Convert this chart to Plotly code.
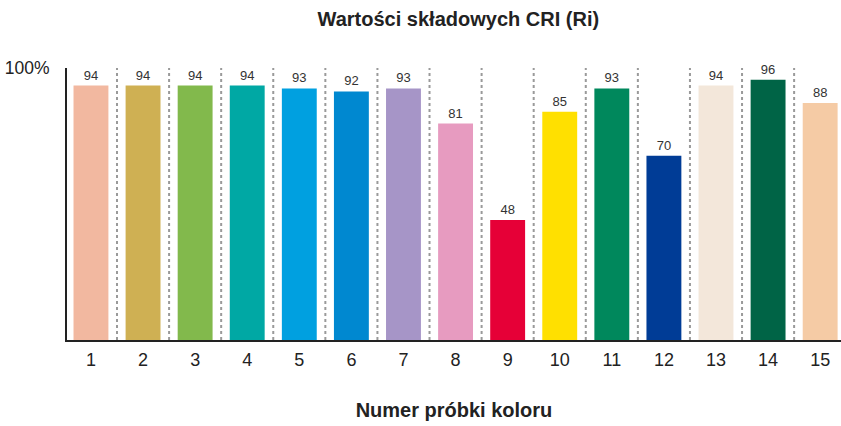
import plotly.graph_objects as go

samples = [str(i) for i in range(1, 16)]
sample_x = list(range(1, 16))
ri_values = [94, 94, 94, 94, 93, 92, 93, 81, 48, 85, 93, 70, 94, 96, 88]
bar_colors = ["#F2B8A0", "#CFB053", "#82B94C", "#00A8A4", "#00A0E0", "#0088D0",
              "#A695C7", "#E79BC0", "#E60037", "#FFE000", "#00885C", "#003C96",
              "#F3E7DA", "#006446", "#F5CBA5"]
y_tick_vals = [100]
y_tick_text = ["100%"]

FONT = "Liberation Sans, Arial, sans-serif"
W, H = 841, 426

fig = go.Figure()
fig.add_trace(go.Bar(
    x=sample_x, y=ri_values,
    marker=dict(color=bar_colors, line=dict(width=0)),
    width=0.67,
    text=[str(v) for v in ri_values],
    textposition="outside",
    textfont=dict(size=13, color="#333333", family=FONT),
    cliponaxis=False,
    hoverinfo="skip",
))

for i in range(len(sample_x) - 1):
    xm = (sample_x[i] + sample_x[i + 1]) / 2
    fig.add_shape(type="line", xref="x", yref="paper", x0=xm, x1=xm, y0=0, y1=1,
                  line=dict(color="#9a9a9a", width=2, dash="dot"), layer="below")

fig.update_layout(
    width=W, height=H,
    margin=dict(l=67, r=0, t=68, b=86),
    paper_bgcolor="white", plot_bgcolor="white",
    showlegend=False,
    font=dict(family=FONT, color="#222222"),
    title=dict(text="<b>Wartości składowych CRI (Ri)</b>", x=0.545, xanchor="center",
               y=1 - 19 / H, yanchor="middle", font=dict(size=20, color="#222222")),
)
fig.update_xaxes(
    range=[0.54, 15.4], tickmode="array", tickvals=sample_x, ticktext=samples,
    showgrid=False, zeroline=False, showline=True, linecolor="#222222", linewidth=2,
    ticks="", tickfont=dict(size=18, color="#222222"), ticklabelstandoff=2,
    title=dict(text="<b>Numer próbki koloru</b>", font=dict(size=20, color="#222222"), standoff=34),
)
fig.update_yaxes(
    range=[7, 100], tickmode="array", tickvals=y_tick_vals, ticktext=y_tick_text,
    showgrid=False, zeroline=False, showline=True, linecolor="#222222", linewidth=2,
    ticks="inside", ticklen=8, tickwidth=2, tickcolor="#222222",
    tickfont=dict(size=17.5, color="#222222"), ticklabelstandoff=12,
)

fig.write_html("out.html", config={"displayModeBar": False},
               post_script="document.body.style.margin='0';")
